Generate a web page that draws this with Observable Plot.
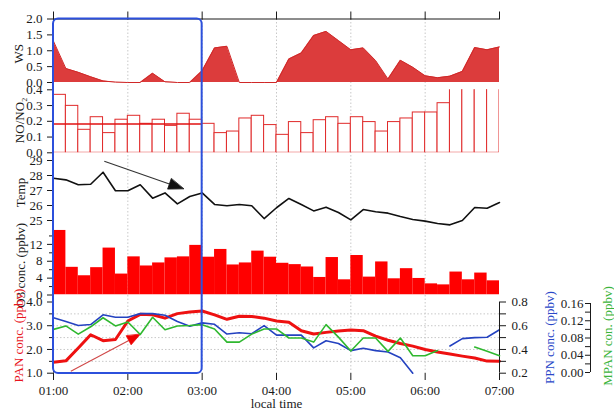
<!DOCTYPE html>
<html>
<head>
<meta charset="utf-8">
<script src="https://cdn.jsdelivr.net/npm/d3@7"></script>
<script src="https://cdn.jsdelivr.net/npm/@observablehq/plot@0.6"></script>
<style>
  body { margin: 0; background: #fff; }
  #chart { position: relative; width: 614px; height: 415px; overflow: hidden; }
</style>
</head>
<body>
<div id="chart"></div>
<script>
// 10-minute sampling times, local time
const times = ["01:00","01:10","01:20","01:30","01:40","01:50","02:00","02:10","02:20","02:30","02:40","02:50",
               "03:00","03:10","03:20","03:30","03:40","03:50","04:00","04:10","04:20","04:30","04:40","04:50",
               "05:00","05:10","05:20","05:30","05:40","05:50","06:00","06:10","06:20","06:30","06:40","06:50","07:00"];

// wind speed
const ws = [1.3,0.44,0.32,0.18,0.05,0.01,0,0,0.29,0.02,0,0,0.37,1.09,1.14,0,0,0,0,0.74,0.93,1.48,1.61,1.32,
            1.03,1.09,0.69,0.11,0.70,0.48,0.21,0.15,0.20,0.35,1.10,1.03,1.12];
// NO/NO2 ratio, one value per 10-minute interval
const noRatio = [0.368,0.298,0.146,0.226,0.125,0.21,0.235,0.184,0.21,0.171,0.248,0.21,
                 0.184,0.125,0.135,0.218,0.235,0.176,0.114,0.195,0.125,0.207,0.226,0.184,
                 0.226,0.195,0.135,0.195,0.218,0.256,0.256,0.315,0.45,0.45,0.45,0.45];
const noMean = 0.183;
// temperature
const temp = [27.82,27.71,27.38,27.42,28.22,26.98,26.98,27.38,26.49,26.84,26.11,26.6,26.84,26.07,25.98,26.07,
              25.98,25.13,25.85,26.47,26.07,25.64,25.89,25.53,25.04,25.73,25.58,25.49,25.27,25.07,24.96,24.8,
              24.71,25.0,25.87,25.82,26.2];
// O3, one value per 10-minute interval
const o3 = [15.3,6.56,4.56,6.48,11.12,4.96,9.04,6.88,7.6,8.8,9.04,11.76,
            8.96,10.8,7.12,7.6,10.4,8.96,7.52,7.2,6.64,4.16,8.88,3.6,
            9.36,4.24,7.84,3.84,6.24,3.92,2.64,2.4,5.44,3.6,5.2,3.36];
// peroxyacyl nitrates
const pan = [1.46,1.52,2.06,2.62,2.37,2.42,3.2,3.48,3.46,3.32,3.51,3.58,3.62,3.46,3.27,3.4,3.39,3.32,3.2,3.15,
             2.79,2.65,2.72,2.78,2.82,2.79,2.56,2.39,2.25,2.14,2.0,1.89,1.81,1.72,1.64,1.51,1.5];
const ppn = [0.668,0.635,0.602,0.61,0.692,0.672,0.672,0.702,0.702,0.688,0.635,0.596,0.624,0.612,0.53,0.541,
             0.533,0.601,0.521,0.521,0.521,0.413,0.473,0.45,0.39,0.41,0.39,0.379,0.331,0.2,null,null,
             0.429,0.491,0.5,0.503,0.566];
const mpan = [0.100,0.108,0.089,0.106,0.127,0.108,0.117,0.088,0.128,0.099,0.108,0.109,0.111,0.101,0.0705,0.0705,
              0.089,0.101,0.101,0.080,0.080,0.0705,0.111,0.082,0.050,0.080,0.080,0.049,0.080,0.039,0.039,0.051,
              null,null,0.059,0.049,0.039];

// tick labels
const hourLabels = ["01:00","02:00","03:00","04:00","05:00","06:00","07:00"];
const gridLabels = ["02:00","03:00","04:00","05:00","06:00"];
const wsLabels = ["0.0","0.5","1.0","1.5","2.0"];
const noLabels = ["0.0","0.1","0.2","0.3","0.4"];
const tempLabels = ["25","26","27","28","29"];
const o3Labels = ["0","4","8","12"];
const o3Minor = [2,6,10,14];
const panLabels = ["1.0","2.0","3.0","4.0"];
const panMinor = [1.5,2.5,3.5];
const panGrid = [1.5,2,2.5,3,3.5];
const ppnLabels = ["0.2","0.4","0.6","0.8"];
const ppnMinor = [0.3,0.5,0.7];
const mpanLabels = ["0.00","0.04","0.08","0.12","0.16"];
const mpanMinor = [0.02,0.06,0.10,0.14];

// highlighted period and trend arrows
const highlight = {from: "01:00", to: "03:00"};
const tempArrow = {x1: "01:41", y1: 28.95, x2: "02:45", y2: 27.11};
const panArrow = {x1: "01:14", y1: 1.08, x2: "02:10", y2: 2.64};

// ---------------------------------------------------------------
const hours = s => { const [h, m] = s.split(":").map(Number); return h + m / 60; };
const T = times.map(hours);
const rows = T.map((t, i) => ({t, ws: ws[i], temp: temp[i], pan: pan[i], ppn: ppn[i], mpan: mpan[i]}));
const noBars = noRatio.map((v, i) => ({x1: T[i], x2: T[i + 1], v}));
const o3Bars = o3.map((v, i) => ({x1: T[i], x2: T[i + 1], v}));
const ticksOf = labels => labels.map(Number);
const fmt = labels => { const v = ticksOf(labels); return d => labels[v.indexOf(d)]; };
const blank = () => "";

const W = 614, H = 415, ML = 53, MR = 115;
const FONT = '"Liberation Serif", "Times New Roman", serif';
const chart = document.getElementById("chart");

// panel frames (top, bottom) in pixels
const F = {
  all: [18.5, 373], ws: [18.5, 82], no: [89.3, 152.3], temp: [160, 220],
  o3: [227, 294.5], pan: [301.5, 372.7], mpan: [303, 372]
};

function layer(frame, yDomain, marks, opts = {}) {
  const svg = Plot.plot({
    width: W, height: H,
    marginLeft: opts.marginLeft ?? ML, marginRight: opts.marginRight ?? MR,
    marginTop: frame[0], marginBottom: H - frame[1],
    x: {domain: opts.xDomain ?? [1, 7], ...(opts.xAxis ? {} : {axis: null})},
    y: {domain: yDomain, ...(opts.yAxis ? {} : {axis: null})},
    marks,
    style: {background: "transparent", fontFamily: FONT, fontSize: "13px", color: "#1a1a1a",
            overflow: "visible", position: "absolute", left: "0px", top: "0px"}
  });
  chart.append(svg);
  return svg;
}

const leftAxis = (labels, minor) => [
  Plot.ruleX([1], {stroke: "#1a1a1a"}),
  Plot.axisY(ticksOf(labels), {anchor: "left", tickSize: 6, tickPadding: 5, tickFormat: fmt(labels), label: null}),
  ...(minor ? [Plot.axisY(minor, {anchor: "left", tickSize: 4, tickFormat: blank, label: null})] : [])
];
const title = (text, anchor, dx, dy = 0, fill = "#1a1a1a") =>
  Plot.text([text], {text: d => d, frameAnchor: anchor, textAnchor: "middle", lineAnchor: "middle",
                     rotate: -90, dx, dy, fill, fontSize: 13});

// arrow: thin shaft plus a filled, narrow head whose corners are laid out in screen space
function arrowMarks(a, frame, yDomain, shaft, head, len, half) {
  const xs = d3.scaleLinear([1, 7], [ML, W - MR]);
  const ys = d3.scaleLinear(yDomain, [frame[1], frame[0]]);
  const p1 = [xs(hours(a.x1)), ys(a.y1)], p2 = [xs(hours(a.x2)), ys(a.y2)];
  const th = Math.atan2(p2[1] - p1[1], p2[0] - p1[0]);
  const u = [Math.cos(th), Math.sin(th)], n = [-Math.sin(th), Math.cos(th)];
  const base = [p2[0] - len * u[0], p2[1] - len * u[1]];
  const toData = p => ({x: xs.invert(p[0]), y: ys.invert(p[1])});
  const headPts = [p2, [base[0] + half * n[0], base[1] + half * n[1]], [base[0] - half * n[0], base[1] - half * n[1]]].map(toData);
  const d = {x1: hours(a.x1), y1: a.y1, x2: toData(base).x, y2: toData(base).y};
  return [
    Plot.link([d], {x1: "x1", y1: "y1", x2: "x2", y2: "y2", stroke: shaft, strokeWidth: 1.1}),
    Plot.line(headPts, {x: "x", y: "y", fill: head, stroke: head, strokeWidth: 0.8, curve: "linear-closed"})
  ];
}

// grid, top and bottom time axes
layer(F.all, [0, 1], [
  Plot.ruleX(gridLabels.map(hours), {stroke: "#c8c8c8", strokeDasharray: "1.5,2"}),
  Plot.ruleY([1], {stroke: "#1a1a1a"}),
  Plot.axisX(hourLabels.map(hours), {anchor: "top", tickSize: 8, tickFormat: blank, label: null}),
  Plot.axisX(hourLabels.map(hours), {anchor: "bottom", tickSize: 7, tickPadding: 5,
    tickFormat: d => hourLabels[hourLabels.map(hours).indexOf(d)], label: null}),
  Plot.text(["local time"], {text: d => d, frameAnchor: "bottom", dy: 34, fontSize: 13})
], {xAxis: true});

// wind speed
layer(F.ws, [0, 2], [
  Plot.areaY(rows, {x: "t", y: "ws", fill: "#dc3c3c"}),
  Plot.lineY(rows, {x: "t", y: "ws", stroke: "#d02828", strokeWidth: 1}),
  ...leftAxis(wsLabels),
  title("WS", "left", -35, 3)
], {yAxis: true});

// NO/NO2
layer(F.no, [0, 0.4], [
  Plot.rectY(noBars, {x1: "x1", x2: "x2", y: "v", fill: "white", stroke: "#e02a2a", strokeWidth: 1, clip: true}),
  Plot.ruleY([noMean], {x1: hours(highlight.from), x2: hours(highlight.to), stroke: "#e01010", strokeWidth: 1.5}),
  ...leftAxis(noLabels),
  title("NO/NO₂", "left", -34, -1)
], {yAxis: true});

// temperature
layer(F.temp, [25, 29], [
  Plot.line(rows, {x: "t", y: "temp", stroke: "#111", strokeWidth: 1.6}),
  ...arrowMarks(tempArrow, F.temp, [25, 29], "#333", "#111", 15, 5.5),
  ...leftAxis(tempLabels),
  title("Temp", "left", -33, 2)
], {yAxis: true});

// O3
layer(F.o3, [0, 16], [
  Plot.rectY(o3Bars, {x1: "x1", x2: "x2", y: "v", fill: "#ff0000", clip: true}),
  ...leftAxis(o3Labels, o3Minor),
  title("O3 conc. (ppbv)", "left", -33, 4)
], {yAxis: true});

// PAN with its grid
layer(F.pan, [1, 4], [
  Plot.ruleY(panGrid, {stroke: "#c8c8c8", strokeDasharray: "1.5,2"}),
  Plot.line(rows, {x: "t", y: "pan", stroke: "#ee1111", strokeWidth: 3}),
  ...arrowMarks(panArrow, F.pan, [1, 4], "#d04848", "#ee0000", 13, 5),
  ...leftAxis(panLabels, panMinor),
  title("PAN conc. (ppbv)", "left", -35, -2, "#e8141c")
], {yAxis: true});

// PPN on the right axis
layer(F.pan, [0.2, 0.8], [
  Plot.line(rows, {x: "t", y: "ppn", stroke: "#2442c0", strokeWidth: 1.6}),
  Plot.ruleX([7], {stroke: "#1a1a1a"}),
  Plot.axisY(ticksOf(ppnLabels), {anchor: "right", tickSize: 6, tickPadding: 6, tickFormat: fmt(ppnLabels), label: null}),
  Plot.axisY(ppnMinor, {anchor: "right", tickSize: 6, tickFormat: blank, label: null}),
  title("PPN conc. (ppbv)", "right", 50, 0, "#2a48c8")
], {yAxis: true});

// MPAN line
layer(F.mpan, [0, 0.16], [
  Plot.line(rows, {x: "t", y: "mpan", stroke: "#2fb82f", strokeWidth: 1.6})
]);

// MPAN axis, outer right
layer(F.mpan, [0, 0.16], [
  Plot.ruleX([0], {stroke: "#1a1a1a"}),
  Plot.axisY(ticksOf(mpanLabels), {anchor: "left", tickSize: 5, tickPadding: 2, tickFormat: fmt(mpanLabels), label: null}),
  Plot.axisY(mpanMinor, {anchor: "left", tickSize: 5, tickFormat: blank, label: null}),
  title("MPAN con. (ppbv)", "left", 17, -2, "#3cb43c")
], {marginLeft: 590, marginRight: 23, xDomain: [0, 1], yAxis: true});

// highlighted period
layer(F.all, [0, 1], [
  Plot.rect([highlight], {x1: d => hours(d.from), x2: d => hours(d.to), fill: "none",
                          stroke: "#2c50dc", strokeWidth: 2, rx: 5})
]);
</script>
</body>
</html>
